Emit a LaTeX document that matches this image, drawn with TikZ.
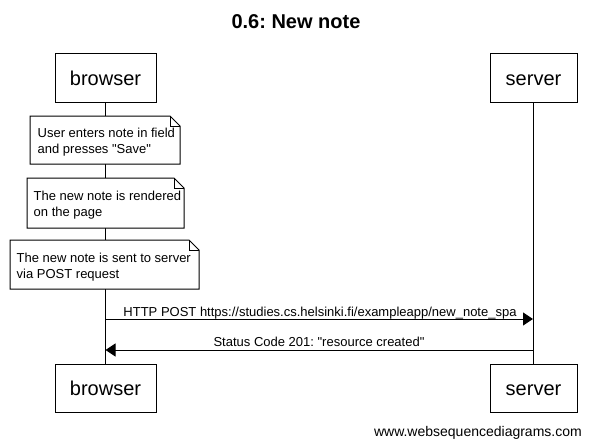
\documentclass[tikz,border=0pt]{standalone}
\usepackage{fontspec}
\setmainfont{Liberation Sans}
\usetikzlibrary{arrows.meta}
\frenchspacing
\begin{document}
\begin{tikzpicture}[x=1pt,y=-1pt,
  actor/.style={draw, line width=1pt, fill=white, inner sep=0pt,
    font=\fontsize{20}{24}\selectfont, text height=15pt, text depth=0pt},
  notetext/.style={anchor=west, align=left, inner sep=0pt,
    font=\fontsize{13}{16}\selectfont},
  noteshape/.style={draw, line width=1pt, fill=white},
  foldline/.style={draw, line width=0.8pt},
  lifeline/.style={line width=1pt},
  msg/.style={line width=1pt, -{Triangle[length=10pt, width=13pt]}},
  lbl/.style={anchor=base, inner sep=0pt, font=\fontsize{13}{16}\selectfont},
  titletext/.style={anchor=base, inner sep=0pt, font=\fontsize{20}{24}\selectfont\bfseries},
  watermark/.style={anchor=base east, inner sep=0pt, font=\fontsize{14}{16}\selectfont}
]
\useasboundingbox (0,0) rectangle (591,447);

\node[titletext] (t) at (296,28) {0.6: New note};

% actors
\node[actor, minimum width=101pt, minimum height=49pt] (bt) at (105.5,77.5) {browser};
\node[actor, minimum width=87pt, minimum height=49pt] (st) at (533.5,77.5) {server};
\node[actor, minimum width=101pt, minimum height=48pt] (bb) at (105.5,388) {browser};
\node[actor, minimum width=87pt, minimum height=48pt] (sb) at (533.5,388) {server};

% lifelines
\draw[lifeline] (bt.south) -- (bb.north);
\draw[lifeline] (st.south) -- (sb.north);

% notes
\coordinate (n1a) at (30,116); \coordinate (n1b) at (180,164);
\coordinate (n2a) at (27,178); \coordinate (n2b) at (184,228);
\coordinate (n3a) at (10,240); \coordinate (n3b) at (199,289);

\foreach \a/\b in {n1a/n1b, n2a/n2b, n3a/n3b}{
  \path[noteshape] (\a) -- ([xshift=-10pt]\a -| \b) -- ([yshift=-10pt]\a -| \b)
    -- (\b) -- (\a |- \b) -- cycle;
  \path[foldline] ([xshift=-10pt]\a -| \b) |- ([yshift=-10pt]\a -| \b);
}

\node[notetext] (n1) at (37.5,142.5) {User enters note in field\\and presses \textquotedbl Save\textquotedbl};
\node[notetext] (n2) at (33.5,205.5) {The new note is rendered\\on the page};
\node[notetext] (n3) at (16.5,267) {The new note is sent to server\\via POST request};

% messages
\coordinate (b1) at (105.5,319); \coordinate (s1) at (533,319);
\coordinate (b2) at (105.5,350); \coordinate (s2) at (533,350);
\draw[msg] (b1) -- (s1);
\node[lbl] (l1) at (320,316) {HTTP POST https://studies.cs.helsinki.fi/exampleapp/new\_note\_spa};
\draw[msg] (s2) -- (b2);
\node[lbl] (l2) at (319,346) {Status Code 201: \textquotedbl resource created\textquotedbl};

\node[watermark] (wm) at (582,436) {www.websequencediagrams.com};
\end{tikzpicture}
\end{document}
